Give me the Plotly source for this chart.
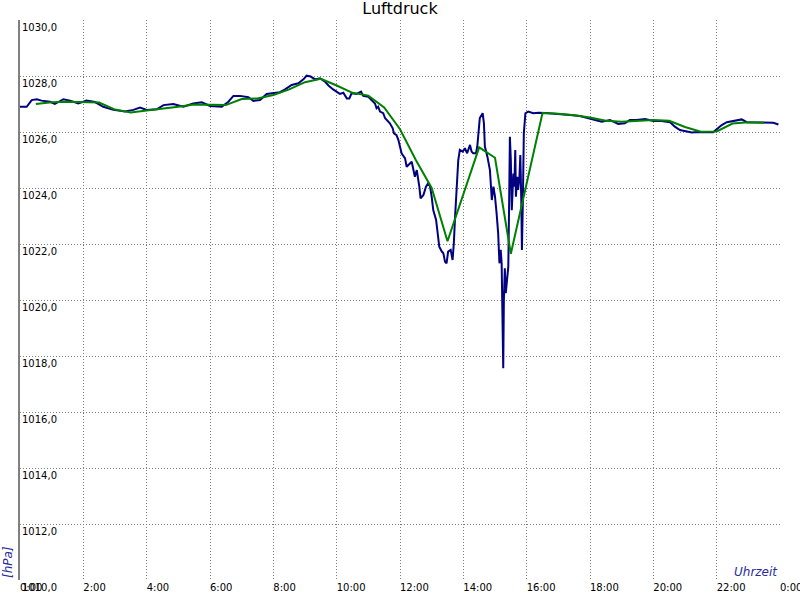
import plotly.graph_objects as go

# ---- data (hours of day, hPa) ----
blue_hours = [0.0, 0.21, 0.37, 0.53, 0.68, 0.95, 1.1, 1.37, 1.58, 1.84, 2.1, 2.37, 2.63, 2.95, 3.32, 3.58,
              3.79, 4.0, 4.32, 4.53, 4.84, 5.16, 5.47, 5.74, 6.0, 6.37, 6.58, 6.74, 6.95, 7.21, 7.37, 7.58,
              7.79, 8.0, 8.21, 8.37, 8.58, 8.79, 8.95, 9.05, 9.18, 9.32, 9.47, 9.63, 9.74, 9.89, 10.0, 10.1,
              10.21, 10.32, 10.4, 10.47, 10.63, 10.77, 10.84, 11.0, 11.1, 11.21, 11.26, 11.31, 11.37, 11.47,
              11.53, 11.58, 11.68, 11.77, 11.81, 11.89, 11.95, 12.05, 12.16, 12.21, 12.31, 12.37, 12.47, 12.53,
              12.61, 12.65, 12.74, 12.82, 12.89, 12.95, 13.0, 13.05, 13.14, 13.19, 13.24, 13.32, 13.37, 13.42,
              13.47, 13.52, 13.6, 13.66, 13.7, 13.74, 13.79, 13.84, 13.89, 13.98, 14.05, 14.12, 14.21, 14.26,
              14.31, 14.4, 14.44, 14.48, 14.52, 14.61, 14.65, 14.68, 14.76, 14.84, 14.87, 14.9, 14.95, 15.0,
              15.05, 15.1, 15.14, 15.18, 15.21, 15.23, 15.24, 15.26, 15.28, 15.31, 15.34, 15.39, 15.42, 15.45,
              15.47, 15.5, 15.53, 15.58, 15.61, 15.64, 15.66, 15.7, 15.73, 15.77, 15.8, 15.83, 15.85, 15.88,
              15.91, 15.96, 16.05, 16.21, 16.37, 16.6, 16.9, 17.16, 17.37, 17.68, 17.95, 18.21, 18.37, 18.63,
              18.89, 19.1, 19.26, 19.47, 19.74, 20.0, 20.26, 20.53, 20.68, 20.84, 21.05, 21.21, 21.42, 21.68,
              21.89, 22.0, 22.16, 22.32, 22.63, 22.79, 22.95, 23.26, 23.58, 23.79, 23.95]
blue_hpa = [1026.90, 1026.90, 1027.14, 1027.17, 1027.12, 1027.08, 1027.0, 1027.17, 1027.12, 1027.02, 1027.12,
            1027.07, 1026.9, 1026.79, 1026.73, 1026.79, 1026.87, 1026.79, 1026.81, 1026.96, 1027.0, 1026.9,
            1027.02, 1027.06, 1026.93, 1026.9, 1027.08, 1027.29, 1027.29, 1027.24, 1027.11, 1027.14, 1027.36,
            1027.38, 1027.42, 1027.52, 1027.68, 1027.74, 1027.88, 1028.01, 1027.98, 1027.88, 1027.92, 1027.8,
            1027.66, 1027.52, 1027.44, 1027.36, 1027.4, 1027.2, 1027.2, 1027.38, 1027.36, 1027.44, 1027.29,
            1027.26, 1027.14, 1027.02, 1026.85, 1026.9, 1026.73, 1026.67, 1026.49, 1026.43, 1026.31, 1026.13,
            1025.95, 1025.89, 1025.71, 1025.24, 1025.06, 1024.76, 1024.88, 1024.94, 1024.4, 1024.64, 1024.05,
            1023.63, 1023.75, 1024.05, 1024.17, 1024.05, 1023.69, 1023.21, 1022.86, 1022.38, 1021.9, 1021.73,
            1021.67, 1021.37, 1021.31, 1021.73, 1021.79, 1021.43, 1022.02, 1022.98, 1024.05, 1025.0, 1025.36,
            1025.3, 1025.42, 1025.24, 1025.54, 1025.3, 1025.24, 1025.24, 1025.48, 1026.19, 1026.5, 1026.67,
            1026.31, 1025.48, 1025.12, 1024.64, 1024.05, 1023.57, 1024.05, 1023.69, 1023.1, 1022.38, 1021.31,
            1021.79, 1021.31, 1020.0, 1019.17, 1017.56, 1020.0, 1021.13, 1020.24, 1021.01, 1021.19, 1023.81,
            1025.83, 1025.0, 1023.21, 1024.52, 1024.05, 1025.36, 1023.69, 1024.4, 1023.93, 1024.36, 1025.18,
            1023.57, 1021.79, 1023.57, 1025.95, 1026.67, 1026.73, 1026.67, 1026.69, 1026.68, 1026.66, 1026.65,
            1026.61, 1026.57, 1026.49, 1026.43, 1026.37, 1026.43, 1026.29, 1026.31, 1026.43, 1026.43, 1026.46,
            1026.39, 1026.39, 1026.35, 1026.19, 1026.07, 1026.01, 1025.98, 1026.0, 1025.98, 1025.99, 1026.1,
            1026.25, 1026.35, 1026.4, 1026.45, 1026.35, 1026.35, 1026.35, 1026.33, 1026.27]

green_hours = [0.5, 1.0, 1.5, 2.0, 2.5, 3.0, 3.5, 4.0, 4.5, 5.0, 5.5, 6.0, 6.5, 7.0, 7.5, 8.0, 8.5, 9.0, 9.5,
               10.0, 10.5, 11.0, 11.5, 12.0, 12.5, 13.0, 13.5, 14.5, 15.0, 15.5, 16.5, 17.0, 17.5, 18.0, 18.5,
               19.0, 19.5, 20.0, 20.5, 21.0, 21.5, 22.0, 22.5, 23.0, 23.5]
green_hpa = [1027.0, 1027.06, 1027.08, 1027.07, 1027.05, 1026.8, 1026.7, 1026.77, 1026.83, 1026.9, 1026.98,
             1026.98, 1026.96, 1027.18, 1027.2, 1027.32, 1027.52, 1027.78, 1027.9, 1027.66, 1027.4, 1027.3,
             1026.88, 1026.1, 1025.0, 1024.0, 1022.1, 1025.45, 1025.08, 1021.65, 1026.68, 1026.65, 1026.6,
             1026.52, 1026.4, 1026.37, 1026.4, 1026.43, 1026.4, 1026.18, 1026.01, 1026.02, 1026.3, 1026.35,
             1026.33]

x_tick_vals = [0, 2, 4, 6, 8, 10, 12, 14, 16, 18, 20, 22, 24]
x_tick_labels = ["0:00", "2:00", "4:00", "6:00", "8:00", "10:00", "12:00", "14:00", "16:00", "18:00",
                 "20:00", "22:00", "0:00"]
y_tick_vals = [1010, 1012, 1014, 1016, 1018, 1020, 1022, 1024, 1026, 1028, 1030]
y_tick_labels = ["1010,0", "1012,0", "1014,0", "1016,0", "1018,0", "1020,0", "1022,0", "1024,0",
                 "1026,0", "1028,0", "1030,0"]

fig = go.Figure()
fig.add_trace(go.Scatter(x=blue_hours, y=blue_hpa, mode="lines",
                         line=dict(color="#000080", width=2), name="Luftdruck"))
fig.add_trace(go.Scatter(x=green_hours, y=green_hpa, mode="lines",
                         line=dict(color="#008000", width=2), name="Mittel"))

tick_font = dict(family="DejaVu Sans", size=10, color="black")
label_font = dict(family="DejaVu Sans", size=12, color="#2a2aa0", style="italic")

fig.update_layout(
    width=800, height=600,
    margin=dict(l=20, r=20, t=20, b=20, autoexpand=False),
    paper_bgcolor="white", plot_bgcolor="white",
    showlegend=False,
    title=dict(text="Luftdruck", x=0.5, xanchor="center", y=1 - 8 / 600, yanchor="middle",
               font=dict(family="DejaVu Sans", size=16, color="black"), automargin=False),
    xaxis=dict(range=[0, 24], tickvals=x_tick_vals, ticktext=x_tick_labels,
               showgrid=True, gridcolor="#808080", griddash="1px,2px", gridwidth=1,
               ticks="", ticklabelposition="outside right", ticklabeloverflow="allow",
               ticklabelstandoff=0, automargin=False,
               zeroline=False, showline=False, tickfont=tick_font, fixedrange=True),
    yaxis=dict(range=[1010, 1030], tickvals=y_tick_vals, ticktext=y_tick_labels,
               showgrid=True, gridcolor="#808080", griddash="1px,2px", gridwidth=1,
               ticks="", ticklabelposition="inside bottom", ticklabeloverflow="allow",
               automargin=False,
               zeroline=False, showline=True, linecolor="#808080", linewidth=2,
               tickfont=tick_font, fixedrange=True),
    annotations=[
        dict(text="[hPa]", xref="paper", yref="paper", x=(8 - 20) / 760, y=(580 - 562) / 560,
             xanchor="center", yanchor="middle", textangle=-90, showarrow=False, font=label_font),
        dict(text="Uhrzeit", xref="paper", yref="paper", x=1, y=(580 - 572) / 560,
             xanchor="right", yanchor="middle", showarrow=False, font=label_font),
    ],
)

fig.write_html("out.html", config={"displayModeBar": False},
               post_script="document.body.style.margin='0';document.body.style.overflow='hidden';")
